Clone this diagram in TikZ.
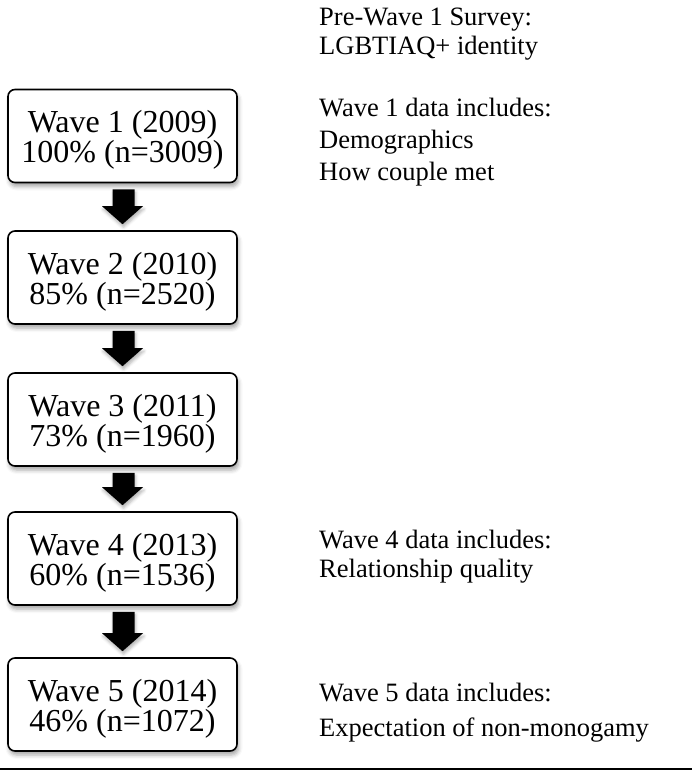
\documentclass[tikz,border=0pt]{standalone}
\usepackage{fontspec}
\setmainfont{Liberation Serif}
\usetikzlibrary{calc,shadows.blur}
\begin{document}
\begin{tikzpicture}[x=1pt,y=-1pt,
  wave/.style={draw=black, line width=1.6pt, rounded corners=7pt, fill=white,
    minimum width=229pt, minimum height=93pt, inner sep=0pt, align=center,
    text height=60pt,
    font=\fontsize{32}{26.5}\selectfont,
    blur shadow={shadow xshift=1.5pt, shadow yshift=-4pt, shadow blur radius=4pt, shadow opacity=35}},
  note/.style={anchor=base west, inner sep=0pt, font=\fontsize{26.5}{30}\selectfont},
  blockarrow/.style={fill=black,
    blur shadow={shadow xshift=1pt, shadow yshift=-3pt, shadow blur radius=3pt, shadow opacity=30}},
  rulestyle/.style={draw=black, line width=1.5pt}
]
\useasboundingbox (0,0) rectangle (692,770);

\node[wave] (w1) at (122.5,136)   {Wave 1 (2009)\\100\% (n=3009)};
\node[wave] (w2) at (122.5,277.5) {Wave 2 (2010)\\85\% (n=2520)};
\node[wave] (w3) at (122.5,419.5) {Wave 3 (2011)\\73\% (n=1960)};
\node[wave] (w4) at (122.5,558.5) {Wave 4 (2013)\\60\% (n=1536)};
\node[wave] (w5) at (122.5,704.5) {Wave 5 (2014)\\46\% (n=1072)};

\foreach \fa/\fb in {w1/w2,w2/w3,w3/w4,w4/w5}{
  \fill[blockarrow] let \p1=(\fa.south), \p2=(\fb.north) in
    (\x1-10pt,\y1-6pt) -- (\x1+12pt,\y1-6pt) -- (\x1+12pt,\y2+24pt)
    -- (\x1+20.5pt,\y2+24pt) -- (\x1,\y2+6pt) -- (\x1-20.5pt,\y2+24pt)
    -- (\x1-10pt,\y2+24pt) -- cycle;
}

\node[note] (p1) at (319,26)  {Pre-Wave 1 Survey:};
\node[note] (p2) at (319,55)  {LGBTIAQ+ identity};
\node[note] (a1) at (319,117) {Wave 1 data includes:};
\node[note] (a2) at (319,149) {Demographics};
\node[note] (a3) at (319,180) {How couple met};
\node[note] (b1) at (319,548) {Wave 4 data includes:};
\node[note] (b2) at (319,577) {Relationship quality};
\node[note] (c1) at (319,701) {Wave 5 data includes:};
\node[note] (c2) at (319,736) {Expectation of non-monogamy};

\coordinate (rl) at (0,769);
\coordinate (rr) at (692,769);
\draw[rulestyle] (rl) -- (rr);
\end{tikzpicture}
\end{document}
